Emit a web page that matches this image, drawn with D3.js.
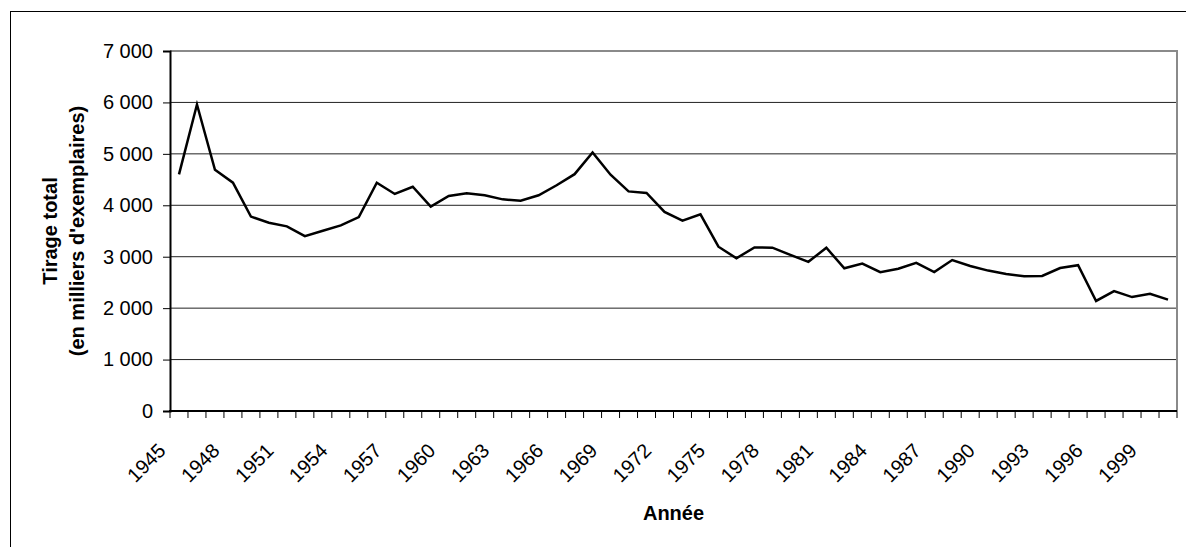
<!DOCTYPE html>
<html>
<head>
<meta charset="utf-8">
<script src="https://cdn.jsdelivr.net/npm/d3@7"></script>
<style>
  body { margin: 0; background: #fff; }
  svg { display: block; font-family: "Liberation Sans", Arial, sans-serif; }
</style>
</head>
<body>
<svg id="chart" width="1186" height="547"></svg>
<script>
// Tirage total par année (milliers d'exemplaires)
var years = d3.range(1945, 2001);
var tirage = [
    4600, 5960, 4690, 4440, 3780, 3660, 3590, 3400, 3505, 3610,
    3770, 4440, 4220, 4360, 3975, 4180, 4235, 4195, 4115, 4090,
    4195, 4390, 4605, 5025, 4595, 4270, 4240, 3870, 3700, 3825,
    3195, 2970, 3180, 3175, 3035, 2900, 3175, 2775, 2865, 2700,
    2765, 2880, 2700, 2935, 2820, 2730, 2665, 2620, 2625, 2780,
    2835, 2140, 2330, 2215, 2280, 2165
];
var yTicks = [0, 1000, 2000, 3000, 4000, 5000, 6000, 7000];
var xLabelYears = years.filter(y => (y - 1945) % 3 == 0);

var yTitle = ["Tirage total", "(en milliers d'exemplaires)"];
var xTitle = "Année";

// plot area (note: "top" is taken by window.top, so prefix everything)
var plotLeft = 170, plotRight = 1177, plotTop = 51, plotBottom = 411;
var fontSize = 20;

var $svg = d3.select("#chart");

// outer frame (runs off the right / bottom edge like the reference)
$svg.append("rect")
    .attr("x", 10.5).attr("y", 11.5)
    .attr("width", 1200).attr("height", 560)
    .attr("fill", "none")
    .attr("stroke", "#000")
    .attr("stroke-width", 1);

var x = d3.scaleBand().domain(years).range([plotLeft, plotRight]).padding(0);
var y = d3.scaleLinear().domain([0, 7000]).range([plotBottom, plotTop]);

// gridlines
$svg.append("g")
    .selectAll("line")
    .data(yTicks.filter(d => d > 0 && d < 7000))
    .join("line")
    .attr("x1", plotLeft).attr("x2", plotRight)
    .attr("y1", d => y(d)).attr("y2", d => y(d))
    .attr("stroke", "#222")
    .attr("stroke-width", 1);

// plot border top + right (grey)
$svg.append("path")
    .attr("d", `M${plotLeft},${plotTop} H${plotRight} V${plotBottom}`)
    .attr("fill", "none")
    .attr("stroke", "#8a8a8a")
    .attr("stroke-width", 2);

// y axis
var fmt = d => d3.format(",")(d).replace(/,/g, " ");
var $yAxis = $svg.append("g")
    .attr("transform", `translate(${plotLeft},0)`)
    .call(d3.axisLeft(y).tickValues(yTicks).tickFormat(fmt).tickSize(7).tickPadding(10));
$yAxis.select(".domain").attr("stroke", "#000").attr("stroke-width", 2);
$yAxis.selectAll(".tick line").attr("stroke", "#000").attr("stroke-width", 1);
$yAxis.selectAll("text")
    .attr("fill", "#000")
    .style("font-size", fontSize + "px")
    .style("font-family", "'Liberation Sans', Arial, sans-serif");

// x axis line + ticks at category boundaries
$svg.append("line")
    .attr("x1", plotLeft - 1).attr("x2", plotRight)
    .attr("y1", plotBottom).attr("y2", plotBottom)
    .attr("stroke", "#000").attr("stroke-width", 2);

var boundaries = years.map(d => x(d)).concat([x(years[years.length - 1]) + x.bandwidth()]);
$svg.append("g")
    .selectAll("line")
    .data(boundaries)
    .join("line")
    .attr("x1", d => d).attr("x2", d => d)
    .attr("y1", plotBottom).attr("y2", plotBottom + 7)
    .attr("stroke", "#000").attr("stroke-width", 1);

// x labels, rotated
$svg.append("g")
    .selectAll("text")
    .data(xLabelYears)
    .join("text")
    .attr("transform", d => `translate(${x(d) + x.bandwidth() / 2 - 12},${plotBottom + 41}) rotate(-45)`)
    .attr("text-anchor", "end")
    .attr("font-size", fontSize)
    .attr("fill", "#000")
    .text(d => d);

// the line
var line = d3.line()
    .x((d, i) => x(years[i]) + x.bandwidth() / 2)
    .y(d => y(d));
$svg.append("path")
    .datum(tirage)
    .attr("d", line)
    .attr("fill", "none")
    .attr("stroke", "#000")
    .attr("stroke-width", 2.5)
    .attr("stroke-linejoin", "miter");

// axis titles
var yMid = (plotTop + plotBottom) / 2;
$svg.append("g")
    .selectAll("text")
    .data(yTitle)
    .join("text")
    .attr("transform", (d, i) => `translate(${50 + i * 27},${yMid}) rotate(-90)`)
    .attr("text-anchor", "middle")
    .attr("dominant-baseline", "central")
    .attr("font-size", fontSize)
    .attr("font-weight", "bold")
    .attr("fill", "#000")
    .text(d => d);

$svg.append("text")
    .attr("x", (plotLeft + plotRight) / 2)
    .attr("y", 520)
    .attr("text-anchor", "middle")
    .attr("font-size", fontSize)
    .attr("font-weight", "bold")
    .attr("fill", "#000")
    .text(xTitle);
</script>
</body>
</html>
